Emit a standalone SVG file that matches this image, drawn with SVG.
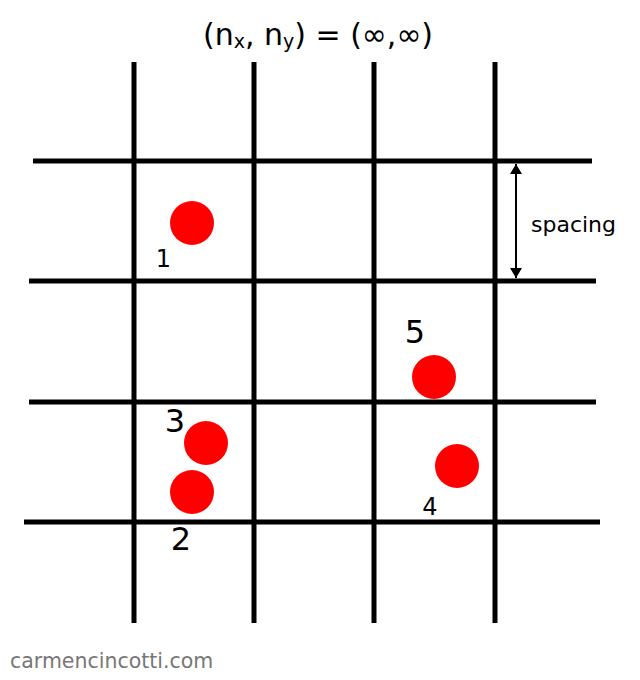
<svg xmlns="http://www.w3.org/2000/svg" width="640" height="680" viewBox="0 0 640 680">
<style>
  .grid { stroke: #000; stroke-width: 5; fill: none; }
  .pt { fill: #ff0000; }
  .lbl { font-family: "DejaVu Sans", Verdana, sans-serif; fill: #000; }
  .dim { stroke: #000; stroke-width: 2; fill: none; }
</style>
<defs>
  <marker id="ah" viewBox="0 0 10 12" refX="10" refY="6" markerWidth="10" markerHeight="12" markerUnits="userSpaceOnUse" orient="auto-start-reverse">
    <path d="M0,0 L10,6 L0,12 Z" fill="#000"/>
  </marker>
</defs>
<rect width="640" height="680" fill="#fff"/>
<text class="lbl" x="318" y="45" font-size="30" text-anchor="middle">(n<tspan font-size="19" dy="3">x</tspan><tspan dy="-3">, n</tspan><tspan font-size="19" dy="3">y</tspan><tspan dy="-3">) = (∞,∞)</tspan></text>
<g id="grid">
  <line class="grid" x1="134" y1="62" x2="134" y2="623"/>
  <line class="grid" x1="254" y1="62" x2="254" y2="623"/>
  <line class="grid" x1="374" y1="62" x2="374" y2="623"/>
  <line class="grid" x1="495" y1="62" x2="495" y2="623"/>
  <line class="grid" x1="33" y1="161" x2="592" y2="161"/>
  <line class="grid" x1="29" y1="281" x2="596" y2="281"/>
  <line class="grid" x1="29" y1="402" x2="596" y2="402"/>
  <line class="grid" x1="24" y1="522" x2="600" y2="522"/>
</g>
<g id="connectors">
  <line class="dim" x1="516" y1="164" x2="516" y2="278" marker-start="url(#ah)" marker-end="url(#ah)"/>
  <text class="lbl" x="531" y="232" font-size="22">spacing</text>
</g>
<g id="p1"><circle class="pt" cx="192" cy="223" r="22"/><text class="lbl" x="163.5" y="267" font-size="24" text-anchor="middle">1</text></g>
<g id="p2"><circle class="pt" cx="192" cy="492" r="22"/><text class="lbl" x="181" y="550" font-size="32" text-anchor="middle">2</text></g>
<g id="p3"><circle class="pt" cx="206" cy="443" r="22"/><text class="lbl" x="175" y="432" font-size="32" text-anchor="middle">3</text></g>
<g id="p4"><circle class="pt" cx="457" cy="466" r="22"/><text class="lbl" x="430" y="515" font-size="24" text-anchor="middle">4</text></g>
<g id="p5"><circle class="pt" cx="434" cy="377" r="22"/><text class="lbl" x="415" y="343" font-size="32" text-anchor="middle">5</text></g>
<text class="lbl" x="10" y="668" font-size="20.5" style="fill:#777">carmencincotti.com</text>
</svg>
